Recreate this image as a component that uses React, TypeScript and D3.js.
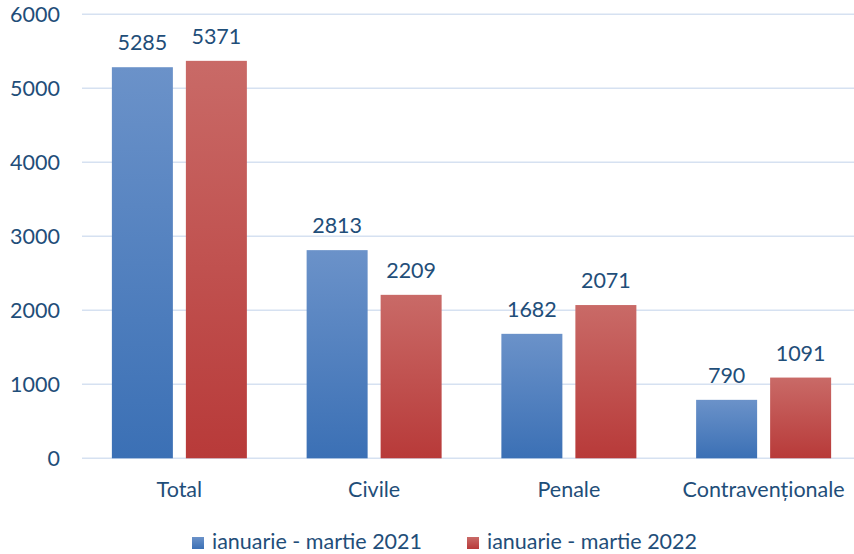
import React from "react";
import * as d3 from "d3";

const categories = ["Total", "Civile", "Penale", "Contravenționale"];
const series2021 = [5285, 2813, 1682, 790];
const series2022 = [5371, 2209, 2071, 1091];
const seriesNames = ["ianuarie - martie 2021", "ianuarie - martie 2022"];
const yTicks = [0, 1000, 2000, 3000, 4000, 5000, 6000];

const W = 854;
const H = 554;
const textColor = "#1f4e79";
const font = "Lato, 'Open Sans', sans-serif";
const fs = 21.5;

export default function App() {
  const x = d3.scaleBand<string>().domain(categories).range([82, 861]).paddingInner(0).paddingOuter(0);
  const y = d3.scaleLinear().domain([0, 6000]).range([458.3, 14.3]);
  const barW = 61;
  const gap = 13;
  const series = [series2021, series2022];
  const fills = ["url(#gBlue)", "url(#gRed)"];
  return (
    <svg width={W} height={H} style={{ position: "absolute", left: 0, top: 0 }}>
      <defs>
        <linearGradient id="gBlue" x1="0" y1="0" x2="0" y2="1">
          <stop offset="0" stopColor="#6b92c9" />
          <stop offset="1" stopColor="#3b70b5" />
        </linearGradient>
        <linearGradient id="gRed" x1="0" y1="0" x2="0" y2="1">
          <stop offset="0" stopColor="#c96a67" />
          <stop offset="1" stopColor="#b83a39" />
        </linearGradient>
      </defs>
      <rect width={W} height={H} fill="#fff" />
      {yTicks.map((t) => (
        <g key={t}>
          <line x1={82} x2={W} y1={y(t)} y2={y(t)} stroke="#d6e1f1" strokeWidth={1.5} />
          <text x={60} y={y(t)} dy="0.36em" textAnchor="end" fontFamily={font} fontSize={fs} fill={textColor}>
            {t}
          </text>
        </g>
      ))}
      {categories.map((c, i) => {
        const cx = x(c)! + x.bandwidth() / 2;
        return (
          <g key={c}>
            {series.map((s, k) => {
              const bx = cx - gap / 2 - barW + k * (barW + gap);
              const v = s[i];
              return (
                <g key={k}>
                  <rect x={bx} y={y(v)} width={barW} height={y(0) - y(v)} fill={fills[k]} />
                  <text x={bx + barW / 2} y={y(v) - 17} textAnchor="middle" fontFamily={font} fontSize={fs} fill={textColor}>
                    {v}
                  </text>
                </g>
              );
            })}
            <text x={cx} y={497} textAnchor="middle" fontFamily={font} fontSize={fs} fill={textColor}>
              {c}
            </text>
          </g>
        );
      })}
      {seriesNames.map((n, k) => {
        const lx = [192, 467][k];
        return (
          <g key={n}>
            <rect x={lx} y={537} width={12} height={12} fill={fills[k]} />
            <text x={lx + 20} y={549} fontFamily={font} fontSize={fs} fill={textColor}>
              {n}
            </text>
          </g>
        );
      })}
    </svg>
  );
}
